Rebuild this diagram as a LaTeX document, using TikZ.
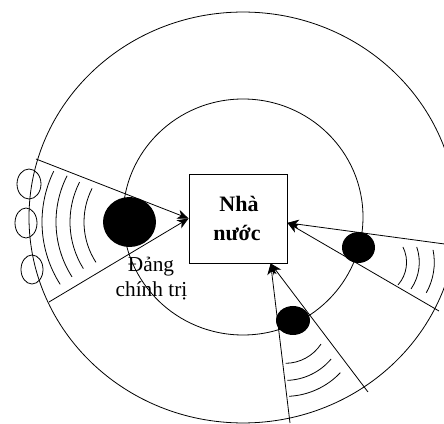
\documentclass[tikz,border=0pt]{standalone}
\usepackage{fontspec}
\setmainfont{Liberation Serif}
\usetikzlibrary{shapes.geometric,arrows.meta}
\begin{document}
\begin{tikzpicture}[x=0.75pt,y=-0.75pt, line width=0.6pt,
  arr/.style={-{Stealth[length=8.5pt,width=7pt,inset=2.5pt]}},
  blob/.style={ellipse, fill=black, inner sep=0pt},
  ring/.style={ellipse, draw, inner sep=0pt},
  wave/.style={line width=0.6pt},
  lbl/.style={font=\fontsize{16}{19}\selectfont, inner sep=0pt, anchor=base},
  blbl/.style={font=\bfseries\fontsize{16.5}{19}\selectfont, inner sep=0pt, anchor=base}]
\useasboundingbox (0,0) rectangle (444,424);
\clip (0,0) rectangle (444,424);
% rings
\draw (243,217.5) ellipse [x radius=160.5pt, y radius=154.1pt];
\draw (243,217) ellipse [x radius=90pt, y radius=88.5pt];
% central box
\node[draw, minimum width=73.5pt, minimum height=66.75pt, inner sep=0pt] (nn) at (238,218.5) {};
\node[blbl] (t1) at (239,212) {Nhà};
\node[blbl] (t2) at (237,241) {nước};
% blobs
\node[blob, minimum width=39.75pt, minimum height=37.5pt] (bl) at (129.5,222) {};
\node[blob, minimum width=24.75pt, minimum height=23.25pt] (br) at (358.5,247.5) {};
\node[blob, minimum width=25.5pt, minimum height=21.75pt] (bb) at (293,320.5) {};
\node[lbl] (d1) at (151,272) {Đảng};
\node[lbl] (d2) at (151.5,297) {chính trị};
% small rings left
\node[ring, minimum width=18pt, minimum height=22.5pt] (e1) at (29,184) {};
\node[ring, minimum width=16.5pt, minimum height=22.5pt] (e2) at (26,223) {};
\node[ring, minimum width=16.5pt, minimum height=21.75pt] (e3) at (32,269.5) {};
% wedge ends
\coordinate (lu) at (36,159);
\coordinate (ll) at (49,302);
\coordinate (ru) at (452,245);
\coordinate (rl) at (439,311);
\coordinate (bwl) at (290,423);
\coordinate (bwr) at (368,392);
\draw[arr] (lu) -- (nn.west);
\draw[arr] (ll) -- (nn.west);
\draw[arr] (ru) -- (nn.-5);
\draw[arr] (rl) -- (nn.-5);
\draw[arr] (bwl) -- (nn.-54);
\draw[arr] (bwr) -- (nn.-54);
% wave centres
\coordinate (wl) at (158,222);
\coordinate (wr) at (372.3,262.3);
\coordinate (wb) at (285.2,320.4);
% waves left
\draw[wave] ([shift={(154:87pt)}]wl) arc[start angle=154, end angle=212.5, radius=87pt];
\draw[wave] ([shift={(153:76.5pt)}]wl) arc[start angle=153, end angle=212.5, radius=76.5pt];
\draw[wave] ([shift={(153:66pt)}]wl) arc[start angle=153, end angle=212, radius=66pt];
\draw[wave] ([shift={(153:55.5pt)}]wl) arc[start angle=153, end angle=213, radius=55.5pt];
% waves right
\draw[wave] ([shift={(26.5:25.7pt)}]wr) arc[start angle=26.5, end angle=-41.5, radius=25.7pt];
\draw[wave] ([shift={(19:35.25pt)}]wr) arc[start angle=19, end angle=-34.5, radius=35.25pt];
\draw[wave] ([shift={(11.5:46.5pt)}]wr) arc[start angle=11.5, end angle=-29.5, radius=46.5pt];
% waves bottom
\draw[wave] ([shift={(-89.5:32.2pt)}]wb) arc[start angle=-89.5, end angle=-33.5, radius=32.2pt];
\draw[wave] ([shift={(-88:45pt)}]wb) arc[start angle=-88, end angle=-40, radius=45pt];
\draw[wave] ([shift={(-87:57pt)}]wb) arc[start angle=-87, end angle=-43.5, radius=57pt];
\end{tikzpicture}
\end{document}
